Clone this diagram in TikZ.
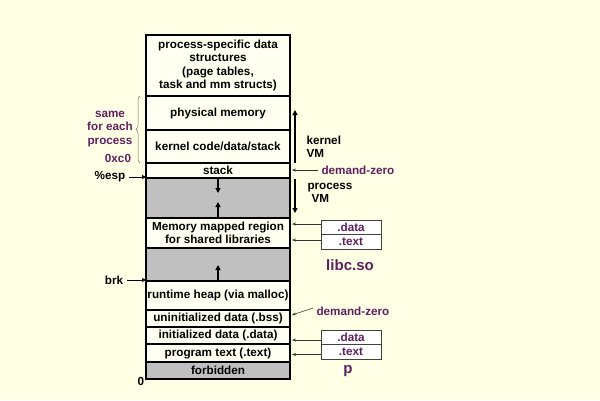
\documentclass[tikz,border=0pt]{standalone}
\usepackage{fontspec}
\setmainfont{Liberation Sans}
\usetikzlibrary{arrows.meta,positioning,decorations.pathreplacing}
\definecolor{mbg}{RGB}{255,255,229}
\definecolor{mcell}{RGB}{255,255,242}
\definecolor{mgray}{RGB}{192,192,192}
\definecolor{mpurple}{RGB}{96,32,96}

\begin{document}
\begin{tikzpicture}[x=1pt, y=-1pt,
    every node/.style={font=\fontsize{11.7}{13.3}\selectfont\bfseries},
    cell/.style={draw, line width=1.5pt, fill=mcell, minimum width=144pt,
                 inner sep=0pt, outer sep=0pt, align=center},
    gap/.style={cell, fill=mgray},
    tag/.style={draw=black!75, line width=0.6pt, fill=white, minimum width=60pt,
                minimum height=14.5pt, inner sep=0pt, outer sep=0pt, text=mpurple},
    arr/.style={-{Triangle[length=5pt,width=5pt]}, line width=1.5pt},
    ptr/.style={-{Stealth[length=4pt,width=3pt]}, line width=0.6pt, black!80},
    lbl/.style={text=mpurple},
    big/.style={lbl, font=\fontsize{15}{18}\selectfont\bfseries},
  ]
    \fill[mbg] (0,0) rectangle (600,400);

    % address space column
    \node[cell, minimum height=61pt] (pss)  at (218,65.5)  {process-specific data\\structures\\(page tables,\\task and mm structs)};
    \node[cell, minimum height=34pt] (phys) at (218,113)   {physical memory};
    \node[cell, minimum height=33pt] (kern) at (218,146.5) {kernel code/data/stack};
    \node[cell, minimum height=15pt] (stk)  at (218,170.5) {stack};
    \node[gap,  minimum height=40pt] (gapa) at (218,198)   {};
    \node[cell, minimum height=30pt] (mmap) at (218,233)   {Memory mapped region\\for shared libraries};
    \node[gap,  minimum height=33pt] (gapb) at (218,264.5) {};
    \node[cell, minimum height=29pt] (heap) at (218,295.5) {runtime heap (via malloc)};
    \node[cell, minimum height=17pt] (bss)  at (218,318.5) {uninitialized data (.bss)};
    \node[cell, minimum height=17pt] (dat)  at (218,335.5) {initialized data (.data)};
    \node[cell, minimum height=18pt] (txt)  at (218,353)   {program text (.text)};
    \node[gap,  minimum height=17pt] (forb) at (218,370.5) {forbidden};

    \coordinate (stkdn) at (218,193);
    \coordinate (mmup)  at (218,202);
    \coordinate (hpup)  at (218,265);
    \draw[arr] (gapa.north) -- (stkdn);
    \draw[arr] (gapa.south) -- (mmup);
    \draw[arr] (gapb.south) -- (hpup);

    % left side
    \node[lbl, align=center] (same) at (110,129) {same\\for each\\process};
    \node[lbl] (kbase) at (118,158) {0xc0};
    \draw[decorate, decoration={brace, amplitude=4pt}, black!55, line width=0.5pt]
      (140,163) -- (140,96);
    \node (esp) at (110,177) {\%esp};
    \draw[-{Triangle[length=4pt,width=4pt]}, line width=0.8pt] (esp.east) -- (esp.east -| gapa.west);
    \node (brk) at (114,280) {brk};
    \draw[-{Triangle[length=4pt,width=4pt]}, line width=0.8pt] (brk.east) -- (brk.east -| gapb.west);
    \node (zero) at (141,381) {0};

    % right side
    \coordinate (kvmlo) at (295,163);
    \coordinate (kvmhi) at (295,110);
    \coordinate (pvmhi) at (295,179);
    \coordinate (pvmlo) at (295,213);
    \draw[arr] (kvmlo) -- (kvmhi);
    \draw[arr] (pvmhi) -- (pvmlo);
    \node[anchor=west, align=left] (kvm) at (303,147) {kernel\\VM};
    \node[anchor=west, align=left] (pvm) at (304,193) {process\\\hspace*{4pt}VM};

    \node[lbl, anchor=west] (dza) at (318,170) {demand-zero};
    \draw[ptr] (dza.west) -- ([xshift=2pt]dza.west -| stk.east);

    \node[tag] (ldat) at (351,227.5) {.data};
    \node[tag, below=0pt of ldat] (ltxt) {.text};
    \draw[ptr] ([yshift=3.5pt]ldat.west) -- ([yshift=3.5pt,xshift=2pt]ldat.west -| mmap.east);
    \draw[ptr] ([yshift=2pt]ltxt.west) -- ([yshift=2pt,xshift=2pt]ltxt.west -| mmap.east);
    \node[big] (libc) at (350,265) {libc.so};

    \node[lbl, anchor=west] (dzb) at (313,311) {demand-zero};
    \draw[ptr] ([yshift=3pt]dzb.west) -- ([xshift=2pt,yshift=3.5pt]bss.east);

    \node[tag] (pdat) at (351,337.5) {.data};
    \node[tag, below=0pt of pdat] (ptxt) {.text};
    \draw[ptr] ([yshift=-2.5pt]pdat.west) -- ([yshift=-2.5pt,xshift=2pt]pdat.west -| dat.east);
    \draw[ptr] ([yshift=-2.5pt]ptxt.west) -- ([yshift=-2.5pt,xshift=2pt]ptxt.west -| txt.east);
    \node[big] (prog) at (348,371) {p};
  \end{tikzpicture}
\end{document}
